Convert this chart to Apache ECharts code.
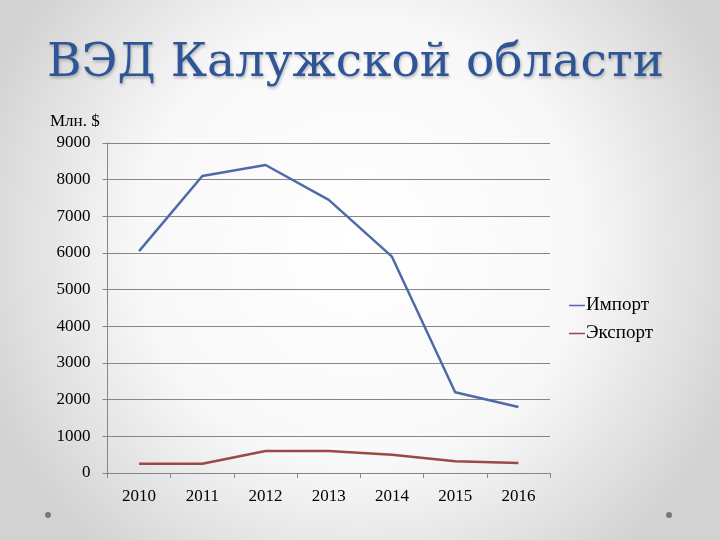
<!DOCTYPE html>
<html>
<head>
<meta charset="utf-8">
<script src="https://cdn.jsdelivr.net/npm/echarts@6/dist/echarts.min.js"></script>
<style>
html,body{margin:0;padding:0;}
#chart{width:720px;height:540px;}
</style>
</head>
<body>
<div id="chart"></div>
<script>
var titleText = 'ВЭД Калужской области';
var unitLabel = 'Млн. $';
var years = ['2010', '2011', '2012', '2013', '2014', '2015', '2016'];
var importName = 'Импорт';
var exportName = 'Экспорт';
var importValues = [6050, 8100, 8400, 7450, 5900, 2200, 1800];
var exportValues = [250, 250, 600, 600, 500, 320, 270];

var serif = '"Liberation Serif", "DejaVu Serif", serif';
var chart = echarts.init(document.getElementById('chart'));
chart.setOption({
  animation: false,
  backgroundColor: {
    type: 'radial', x: 0.5, y: 0.45, r: 0.75,
    colorStops: [
      {offset: 0, color: '#ffffff'},
      {offset: 0.55, color: '#f8f8f8'},
      {offset: 1, color: '#d2d2d2'}
    ]
  },
  title: {
    text: titleText,
    left: 42,
    top: 35,
    textStyle: {
      fontFamily: '"DejaVu Serif", serif', fontWeight: 'normal', fontSize: 47, color: '#2F5596',
      textShadowColor: 'rgba(0,0,0,0.25)', textShadowBlur: 3, textShadowOffsetX: 1, textShadowOffsetY: 2
    }
  },
  graphic: [
    {type: 'text', left: 50, top: 113, style: {text: unitLabel, font: '17px ' + serif, fill: '#000'}},
    {type: 'circle', shape: {cx: 48, cy: 515, r: 3}, style: {fill: '#777'}},
    {type: 'circle', shape: {cx: 669, cy: 515, r: 3}, style: {fill: '#777'}}
  ],
  legend: {
    orient: 'vertical',
    left: 564,
    top: 291,
    itemWidth: 16,
    itemHeight: 1.5,
    itemGap: 9,
    icon: 'rect',
    textStyle: {fontFamily: serif, fontSize: 19, color: '#000', padding: [0, 0, 0, -4]},
    data: [importName, exportName]
  },
  grid: {left: 107.5, right: 170, top: 143, bottom: 67},
  xAxis: {
    type: 'category',
    data: years,
    boundaryGap: true,
    axisLine: {lineStyle: {color: '#868686', width: 1}},
    axisTick: {show: true, length: 5, inside: false, lineStyle: {color: '#868686'}},
    axisLabel: {fontFamily: serif, fontSize: 17, color: '#000', margin: 15}
  },
  yAxis: {
    type: 'value',
    min: 0, max: 9000, interval: 1000,
    axisLine: {show: true, lineStyle: {color: '#868686', width: 1}},
    axisTick: {show: true, length: 5, lineStyle: {color: '#868686'}},
    axisLabel: {fontFamily: serif, fontSize: 17, color: '#000', margin: 17,
      formatter: function (v) { return String(v); }},
    splitLine: {show: true, lineStyle: {color: '#868686', width: 1}}
  },
  series: [
    {name: importName, type: 'line', data: importValues, symbol: 'none',
     color: '#5069A8', lineStyle: {width: 2.5, color: '#5069A8'}},
    {name: exportName, type: 'line', data: exportValues, symbol: 'none',
     color: '#9C4846', lineStyle: {width: 2.5, color: '#9C4846'}}
  ]
});
</script>
</body>
</html>
